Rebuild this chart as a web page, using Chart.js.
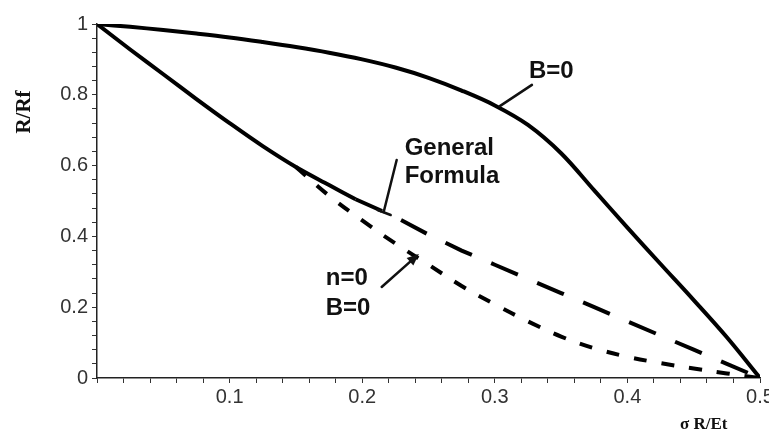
<!DOCTYPE html>
<html><head><meta charset="utf-8">
<script src="https://cdn.jsdelivr.net/npm/chart.js@4"></script>
<style>html,body{margin:0;padding:0;background:#fff;overflow:hidden}#wrap{width:790px;height:432px;position:relative}</style>
</head><body><div id="wrap"><canvas id="c" width="790" height="432"></canvas></div>
<script>
// Upper curve (B=0)
const upperX = [0,0.025,0.05,0.075,0.1,0.125,0.15,0.175,0.2,0.225,0.25,0.275,0.3,0.325,0.35,0.375,0.4,0.425,0.45,0.475,0.5];
const upperY = [1,0.992,0.983,0.973,0.962,0.949,0.935,0.919,0.900,0.877,0.848,0.812,0.770,0.715,0.635,0.530,0.425,0.322,0.220,0.115,0];
// Lower common solid part
const lowerX = [0,0.025,0.05,0.075,0.1,0.125,0.15,0.175,0.195];
const lowerY = [1,0.928,0.858,0.788,0.72,0.655,0.596,0.545,0.505];
// General Formula (long dashes)
const generalX = [0.195,0.225,0.25,0.275,0.3,0.325,0.35,0.375,0.4,0.425,0.45,0.475,0.5];
const generalY = [0.505,0.455,0.405,0.36,0.32,0.28,0.24,0.2,0.16,0.12,0.08,0.04,0];
// n=0, B=0 (short dashes)
const n0X = [0.15,0.175,0.2,0.225,0.25,0.275,0.3,0.325,0.35,0.375,0.4,0.425,0.45,0.475,0.5];
const n0Y = [0.596,0.515,0.445,0.38,0.32,0.26,0.208,0.16,0.117,0.084,0.06,0.042,0.027,0.013,0];

const xTickLabels = ['0.1','0.2','0.3','0.4','0.5'];
const yTickLabels = ['0','0.2','0.4','0.6','0.8','1'];

function pts(xs, ys){ return xs.map((x,i)=>({x:x,y:ys[i]})); }

const annot = {
  id:'annot',
  afterDatasetsDraw(chart){
    const ctx = chart.ctx, xs = chart.scales.x, ys = chart.scales.y;
    const P = (x,y)=>[xs.getPixelForValue(x), ys.getPixelForValue(y)];
    ctx.save();
    ctx.fillStyle = '#111'; ctx.strokeStyle = '#111';
    ctx.font = 'bold 24px "Liberation Sans", Arial, sans-serif';
    ctx.textBaseline = 'alphabetic'; ctx.textAlign = 'left';
    let p;
    p = P(0.232,0.63); ctx.fillText('General', p[0], p[1]);
    p = P(0.232,0.551); ctx.fillText('Formula', p[0], p[1]);
    p = P(0.3257,0.847); ctx.fillText('B=0', p[0], p[1]);
    p = P(0.1725,0.263); ctx.fillText('n=0', p[0], p[1]);
    p = P(0.1725,0.178); ctx.fillText('B=0', p[0], p[1]);
    ctx.lineWidth = 2.5; ctx.lineCap = 'round';
    function seg(a,b,c,d){ const p1=P(a,b), p2=P(c,d); ctx.beginPath(); ctx.moveTo(p1[0],p1[1]); ctx.lineTo(p2[0],p2[1]); ctx.stroke(); return [p1,p2]; }
    seg(0.328,0.828,0.3038,0.768);
    const g = seg(0.226,0.616,0.2162,0.469);
    ctx.beginPath(); ctx.moveTo(g[1][0]-6,g[1][1]-2); ctx.lineTo(g[1][0]+7,g[1][1]+3); ctx.stroke();
    const a = seg(0.2147,0.257,0.2411,0.345);
    const ang = Math.atan2(a[1][1]-a[0][1], a[1][0]-a[0][0]);
    ctx.beginPath();
    ctx.moveTo(a[1][0]+3*Math.cos(ang), a[1][1]+3*Math.sin(ang));
    ctx.lineTo(a[1][0]-9*Math.cos(ang)+5*Math.sin(ang), a[1][1]-9*Math.sin(ang)-5*Math.cos(ang));
    ctx.lineTo(a[1][0]-9*Math.cos(ang)-5*Math.sin(ang), a[1][1]-9*Math.sin(ang)+5*Math.cos(ang));
    ctx.closePath(); ctx.fill();
    // axis titles
    ctx.font = 'bold 21px "Liberation Serif", "Times New Roman", serif';
    ctx.save(); ctx.translate(25,112); ctx.rotate(-Math.PI/2);
    ctx.textAlign='center'; ctx.textBaseline='middle'; ctx.fillText('R/Rf',0,0); ctx.restore();
    ctx.font = 'bold 17px "Liberation Serif", "Times New Roman", serif';
    ctx.textAlign='left'; ctx.textBaseline='alphabetic';
    ctx.fillText('\u03C3 R/Et', 680, 429);
    ctx.restore();
  }
};

const common = {pointRadius:0, borderColor:'#000', borderWidth:4, showLine:true, fill:false};
new Chart(document.getElementById('c'), {
  type:'scatter',
  data:{datasets:[
    Object.assign({label:'B=0', data:pts(upperX,upperY), tension:0.35}, common),
    Object.assign({label:'common', data:pts(lowerX,lowerY), tension:0.35}, common),
    Object.assign({label:'General Formula', data:pts(generalX,generalY), tension:0, borderDash:[29,21]}, common),
    Object.assign({label:'n=0 B=0', data:pts(n0X,n0Y), tension:0.35, borderDash:[13,15]}, common)
  ]},
  options:{
    responsive:false, animation:false, devicePixelRatio:1,
    layout:{padding:{top:24,right:30,bottom:0,left:0}},
    plugins:{legend:{display:false}, tooltip:{enabled:false}},
    scales:{
      x:{type:'linear', min:0, max:0.5,
        afterFit(s){ s.height = 54; },
        border:{display:true,color:'#222',width:1.5},
        grid:{drawOnChartArea:false, drawTicks:true, tickLength:5, color:'#333', lineWidth:1},
        ticks:{stepSize:0.02, autoSkip:false, maxRotation:0, padding:2, color:'#333',
          font:{size:20, family:'"Liberation Sans", Arial, sans-serif'},
          callback(v){ const r=Math.round(v*100); if(r%10!==0||r===0) return ''; return xTickLabels[r/10-1]; }}
      },
      y:{type:'linear', min:0, max:1,
        afterFit(s){ s.width = 97; },
        border:{display:true,color:'#222',width:1.5},
        grid:{drawOnChartArea:false, drawTicks:true, tickLength:5, color:'#333', lineWidth:1},
        ticks:{stepSize:0.04, autoSkip:false, padding:4, color:'#333',
          font:{size:20, family:'"Liberation Sans", Arial, sans-serif'},
          callback(v){ const r=Math.round(v*100); if(r%20!==0) return ''; return yTickLabels[r/20]; }}
      }
    }
  },
  plugins:[annot]
});
</script></body></html>
